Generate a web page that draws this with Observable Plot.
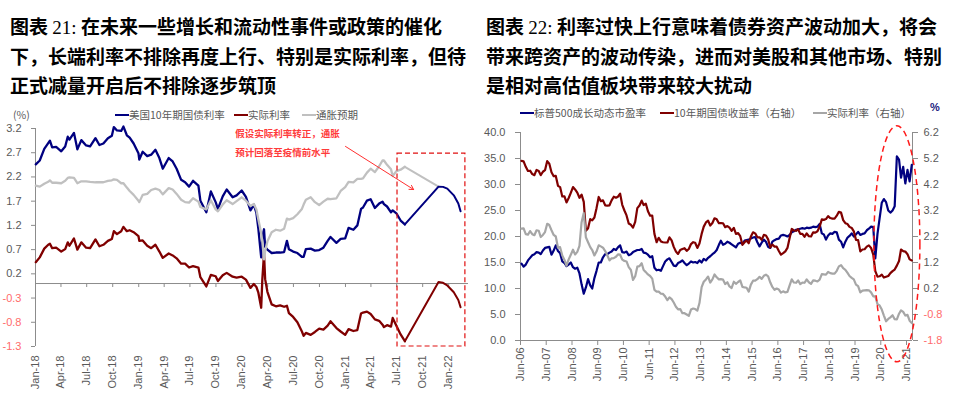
<!DOCTYPE html>
<html>
<head>
<meta charset="utf-8">
<script src="https://cdn.jsdelivr.net/npm/d3@7"></script>
<script src="https://cdn.jsdelivr.net/npm/@observablehq/plot@0.6"></script>
<style>
  html, body { margin: 0; padding: 0; background: #fff; }
  body { width: 954px; height: 397px; position: relative; overflow: hidden; font-family: "Noto Sans CJK SC", sans-serif; }
  .title { position: absolute; top: 12px; font-size: 19px; font-weight: 700; line-height: 28.3px; color: #000; white-space: nowrap; }
  .title .num { font-family: "Liberation Serif", serif; font-weight: 400; }
  .legend { position: absolute; font-size: 10.5px; line-height: 14px; color: #595959; white-space: nowrap; }
  .sw { display: inline-block; width: 14px; height: 2px; vertical-align: middle; margin-right: 0px; position: relative; top: -1px; }
  .fig { position: absolute; top: 105px; }
</style>
</head>
<body>
<div class="title" style="left:10px">图表 <span class="num">21:</span> 在未来一些增长和流动性事件或政策的催化<br>下，长端利率不排除再度上行、特别是实际利率，但待<br>正式减量开启后不排除逐步筑顶</div>
<div class="title" style="left:486px">图表 <span class="num">22:</span> 利率过快上行意味着债券资产波动加大，将会<br>带来跨资产的波动传染，进而对美股和其他市场、特别<br>是相对高估值板块带来较大扰动</div>

<div class="legend" style="left:13px;top:108px">(%)</div>
<div class="legend" style="left:115px;top:108px"><span class="sw" style="background:#000080"></span>美国10年期国债利率</div>
<div class="legend" style="left:234px;top:108px"><span class="sw" style="background:#800000"></span>实际利率</div>
<div class="legend" style="left:302px;top:108px"><span class="sw" style="background:#c0c0c0"></span>通胀预期</div>

<div class="legend" style="left:520px;top:106px"><span class="sw" style="background:#000080"></span>标普500成长动态市盈率</div>
<div class="legend" style="left:660px;top:106px"><span class="sw" style="background:#800000"></span>10年期国债收益率（右轴）</div>
<div class="legend" style="left:813px;top:106px"><span class="sw" style="background:#a6a6a6"></span>实际利率（右轴）</div>
<div class="legend" style="left:930px;top:100px;font-family:'Liberation Sans',sans-serif;font-weight:700;color:#1a1a80;font-size:11px">%</div>

<div id="left" class="fig" style="left:0px"></div>
<div id="right" class="fig" style="left:477px"></div>

<script>
// ---------------- LEFT CHART DATA (%) ----------------
const leftDates = [
"2018-01-02","2018-01-16","2018-02-01","2018-02-15","2018-02-21","2018-03-01","2018-03-15","2018-04-02","2018-04-16","2018-04-25",
"2018-05-01","2018-05-17","2018-05-29","2018-06-12","2018-06-29","2018-07-13","2018-08-01","2018-08-15","2018-08-29","2018-09-14",
"2018-09-28","2018-10-05","2018-10-16","2018-10-31","2018-11-08","2018-11-20","2018-11-30","2018-12-14","2018-12-31",
"2019-01-03","2019-01-15","2019-01-31","2019-02-14","2019-03-01","2019-03-15","2019-03-27","2019-04-17","2019-05-01","2019-05-15",
"2019-05-31","2019-06-14","2019-06-28","2019-07-12","2019-07-31","2019-08-07","2019-08-28","2019-09-13","2019-09-30","2019-10-08",
"2019-10-25","2019-11-08","2019-11-29","2019-12-13","2019-12-31",
"2020-01-15","2020-01-31","2020-02-12","2020-02-21","2020-02-28","2020-03-09","2020-03-13","2020-03-19","2020-03-23","2020-03-31",
"2020-04-15","2020-04-30","2020-05-15","2020-05-29","2020-06-08","2020-06-15","2020-06-30","2020-07-15","2020-07-31","2020-08-06",
"2020-08-14","2020-08-31","2020-09-15","2020-09-30","2020-10-15","2020-10-30","2020-11-09","2020-11-30","2020-12-15","2020-12-31",
"2021-01-12","2021-01-29","2021-02-12","2021-02-25","2021-03-04","2021-03-18","2021-03-31","2021-04-15","2021-04-30","2021-05-12",
"2021-05-17","2021-05-28","2021-06-11","2021-06-17","2021-06-30","2021-07-15","2021-07-30"
];
const leftNominal = [
2.46,2.54,2.78,2.90,2.95,2.81,2.82,2.73,2.83,3.03, 2.97,3.11,2.77,2.96,2.85,2.83,3.00,2.86,2.89,3.00, 3.05,3.23,3.16,3.15,3.24,3.06,3.01,2.89,2.69,
2.56,2.72,2.63,2.66,2.76,2.59,2.37,2.59,2.52,2.37, 2.14,2.09,2.00,2.12,2.02,1.71,1.47,1.90,1.68,1.54, 1.80,1.94,1.78,1.82,1.92,
1.79,1.51,1.63,1.46,1.13,0.54,0.94,1.12,0.76,0.70, 0.63,0.64,0.64,0.65,0.88,0.71,0.66,0.63,0.55,0.55, 0.71,0.72,0.68,0.69,0.74,0.88,0.96,0.84,0.92,0.93,
1.15,1.11,1.20,1.54,1.57,1.71,1.74,1.56,1.65,1.69, 1.64,1.59,1.47,1.51,1.45,1.30,1.22
];
const leftReal = [
0.44,0.54,0.72,0.80,0.82,0.73,0.74,0.66,0.71,0.85, 0.78,0.93,0.70,0.85,0.74,0.73,0.91,0.77,0.80,0.88, 0.92,1.08,1.02,1.08,1.17,1.08,1.10,1.06,0.98,
0.88,0.89,0.78,0.73,0.80,0.66,0.53,0.62,0.58,0.52, 0.41,0.41,0.33,0.36,0.33,0.13,-0.06,0.18,0.15,0.05, 0.17,0.22,0.14,0.12,0.14,
0.08,-0.09,-0.01,-0.07,-0.19,-0.50,0.08,0.62,0.09,-0.17, -0.43,-0.47,-0.45,-0.48,-0.46,-0.61,-0.69,-0.80,-0.99,-1.08, -1.02,-1.06,-1.00,-0.93,-0.95,-0.87,-0.78,-0.92,-0.99,-1.06,
-0.94,-0.98,-0.96,-0.62,-0.60,-0.58,-0.63,-0.74,-0.77,-0.85, -0.90,-0.86,-0.89,-0.71,-0.87,-1.05,-1.19
];
const leftInflation = [
2.02,2.00,2.06,2.10,2.13,2.08,2.08,2.07,2.12,2.18, 2.19,2.18,2.07,2.11,2.11,2.10,2.09,2.09,2.09,2.12, 2.13,2.15,2.14,2.07,2.07,1.98,1.91,1.83,1.71,
1.68,1.83,1.85,1.93,1.96,1.93,1.84,1.97,1.94,1.85, 1.73,1.68,1.67,1.76,1.69,1.58,1.53,1.72,1.53,1.49, 1.63,1.72,1.64,1.70,1.78,
1.71,1.60,1.64,1.53,1.32,1.04,0.86,0.50,0.67,0.87, 1.06,1.11,1.09,1.13,1.34,1.32,1.35,1.43,1.54,1.63, 1.73,1.78,1.68,1.62,1.69,1.75,1.74,1.76,1.91,1.99,
2.10,2.09,2.16,2.16,2.17,2.29,2.37,2.30,2.42,2.54, 2.54,2.45,2.36,2.22,2.32,2.35,2.41
];
// Projection (assumption) segments
const projDates = ["2021-07-30","2021-11-26","2021-12-12","2021-12-27","2022-01-19","2022-02-04","2022-02-12"];
const projNominal = [1.22, 2.00, 1.995, 1.96, 1.82, 1.65, 1.49];
const projReal = [-1.19, 0.03, 0.015, -0.04, -0.18, -0.34, -0.49];
const projInflDates = ["2021-07-30","2021-11-26"];
const projInflation = [2.41, 2.00];
// Dashed box around the projection, and annotation
const boxDates = ["2021-07-04","2022-03-01"];
const boxRange = [-1.3, 2.68];
const noteDate = "2019-12-08";
const noteLines = ["假设实际利率转正，通胀", "预计回落至疫情前水平"];
const noteY = [3.08, 2.70];
const arrowFrom = {date: "2021-01-01", value: 2.83};
const arrowTo = {date: "2021-08-30", value: 1.94};
const leftDomain = ["2018-01-01","2022-03-12"];
const leftTickDates = ["2018-01-01","2018-04-01","2018-07-01","2018-10-01","2019-01-01","2019-04-01","2019-07-01","2019-10-01",
  "2020-01-01","2020-04-01","2020-07-01","2020-10-01","2021-01-01","2021-04-01","2021-07-01","2021-10-01","2022-01-01"];
const leftYTicks = [3.2, 2.7, 2.2, 1.7, 1.2, 0.7, 0.2, -0.3, -0.8, -1.3];

// ---------------- RIGHT CHART DATA (monthly) ----------------
const rightStart = "2006-06-01", rightEndExclusive = "2021-09-01";
const rightPE = [
14.8,14.2,14.6,15.4,15.9,16.4,16.6,
17.0,16.9,16.6,17.3,17.8,17.9,18.0,16.5,17.3,18.3,17.2,16.8,
15.2,14.9,14.3,14.6,15.0,14.1,13.8,14.0,12.9,10.8,9.0,10.2,
11.8,10.6,10.0,12.0,13.4,15.0,15.0,16.0,16.6,16.6,16.9,17.1,
17.6,17.4,17.9,18.3,17.0,16.9,17.1,16.4,16.6,17.0,17.2,17.4,
17.4,17.6,16.9,16.8,16.5,16.0,16.2,14.0,13.5,13.6,13.4,14.3,
15.2,15.6,15.8,15.1,14.4,14.3,14.9,15.1,15.4,14.9,14.5,14.8,
15.2,15.0,15.1,14.9,15.4,15.0,15.7,15.4,15.9,16.2,16.6,16.9,
17.4,18.4,19.2,18.4,18.6,19.0,18.8,18.5,18.2,17.9,18.6,18.8,
18.6,19.2,19.3,19.4,19.6,19.8,19.9,18.9,18.1,18.8,19.4,19.0,
18.0,17.8,19.0,19.3,19.5,19.6,20.2,20.3,20.2,20.0,20.3,20.8,
21.0,21.3,21.4,21.5,21.6,21.5,21.7,21.6,21.7,21.9,21.8,21.9,
22.4,20.6,20.4,19.4,20.2,20.6,20.5,20.9,20.8,19.4,19.0,17.9,
19.0,19.8,20.1,20.6,20.0,20.4,20.9,20.3,20.5,20.6,21.2,21.5,
21.9,21.8,15.8,20.5,23.5,26.5,27.2,26.6,25.0,24.6,25.0,25.8,
35.4,34.8,31.3,33.4,30.2,32.8,30.6,33.8
];
const rightNominal = [
5.11,5.09,4.88,4.72,4.73,4.60,4.56,
4.76,4.72,4.56,4.69,4.75,5.10,5.00,4.67,4.52,4.53,4.15,4.10,
3.74,3.74,3.51,3.68,3.88,4.10,4.01,3.89,3.69,3.81,3.53,2.42,
2.52,2.87,2.82,2.93,3.29,3.72,3.56,3.59,3.40,3.39,3.40,3.59,
3.73,3.69,3.73,3.85,3.42,3.20,3.01,2.70,2.65,2.54,2.76,3.29,
3.39,3.58,3.41,3.46,3.17,3.00,3.00,2.30,1.98,2.15,2.01,1.98,
1.97,1.97,2.17,2.05,1.80,1.62,1.53,1.68,1.72,1.75,1.65,1.72,
1.91,1.98,1.96,1.76,1.93,2.30,2.58,2.74,2.81,2.62,2.72,2.90,
2.86,2.71,2.72,2.71,2.56,2.60,2.54,2.42,2.53,2.30,2.33,2.21,
1.88,1.98,2.04,1.94,2.20,2.36,2.32,2.17,2.17,2.07,2.26,2.24,
2.09,1.78,1.89,1.81,1.81,1.64,1.50,1.56,1.63,1.76,2.14,2.49,
2.43,2.42,2.48,2.30,2.30,2.19,2.32,2.21,2.20,2.36,2.35,2.40,
2.58,2.86,2.84,2.87,2.98,2.91,2.89,2.89,3.00,3.15,3.12,2.83,
2.71,2.68,2.57,2.53,2.40,2.07,2.06,1.63,1.70,1.71,1.81,1.86,
1.76,1.50,0.87,0.66,0.67,0.73,0.62,0.65,0.68,0.79,0.87,0.93,
1.08,1.26,1.70,1.64,1.62,1.52,1.32,1.28
];
const rightReal = [
2.50,2.51,2.29,2.27,2.41,2.29,2.25,
2.44,2.42,2.18,2.26,2.37,2.69,2.64,2.44,2.26,2.20,1.77,1.79,
1.47,1.30,1.08,1.32,1.50,1.69,1.51,1.61,1.84,2.75,3.10,2.17,
1.98,1.79,1.68,1.47,1.62,1.86,1.82,1.77,1.64,1.48,1.28,1.36,
1.37,1.42,1.51,1.50,1.31,1.26,1.24,1.02,0.91,0.53,0.67,1.04,
1.06,1.17,0.91,0.83,0.74,0.68,0.58,0.15,0.08,0.08,0.00,-0.01,
-0.11,-0.25,-0.14,-0.21,-0.34,-0.50,-0.60,-0.59,-0.75,-0.75,-0.80,-0.85,
-0.61,-0.57,-0.59,-0.65,-0.36,0.25,0.46,0.55,0.66,0.43,0.55,0.74,
0.63,0.55,0.56,0.54,0.37,0.44,0.28,0.22,0.46,0.38,0.45,0.51,
0.26,0.24,0.23,0.08,0.35,0.50,0.50,0.56,0.65,0.57,0.69,0.73,
0.67,0.43,0.26,0.15,0.20,0.16,0.04,0.09,0.05,0.07,0.32,0.55,
0.43,0.42,0.51,0.37,0.43,0.42,0.55,0.44,0.38,0.51,0.50,0.47,
0.54,0.75,0.74,0.73,0.84,0.79,0.77,0.77,0.88,1.05,1.10,0.98,
0.92,0.80,0.68,0.61,0.55,0.35,0.29,0.05,0.12,0.13,0.14,0.13,
0.05,-0.10,-0.10,-0.40,-0.45,-0.61,-0.84,-1.06,-0.97,-0.91,-0.83,-0.98,
-0.99,-0.77,-0.64,-0.70,-0.84,-0.81,-1.04,-1.13
];
const rightDomain = ["2006-06-01","2021-08-25"];
const rightTickDates = ["2006-06-01","2007-06-01","2008-06-01","2009-06-01","2010-06-01","2011-06-01","2012-06-01","2013-06-01",
  "2014-06-01","2015-06-01","2016-06-01","2017-06-01","2018-06-01","2019-06-01","2020-06-01","2021-06-01"];
const rightLeftTicks = [0, 5, 10, 15, 20, 25, 30, 35, 40];
const rightRightTicks = [6.2, 5.2, 4.2, 3.2, 2.2, 1.2, 0.2, -0.8, -1.8];
const ellipseDates = ["2020-03-02","2021-12-15"];
const ellipseRange = [-4.2, 41.2];

// ---------------- BUILD ----------------
const NAVY = "#000080", MAROON = "#800000", AXIS = "#8c8c8c", TXT = "#595959", PINK = "#ff6b6b";
const parse = d3.utcParse("%Y-%m-%d");
const fmtLeft = d3.utcFormat("%b-%y");
const baseStyle = {fontFamily: "'Liberation Sans', Arial, sans-serif", fontSize: "11px", color: TXT, background: "none", overflow: "visible"};

const leftRows = leftDates.map((d, i) => ({date: parse(d), nominal: leftNominal[i], real: leftReal[i], infl: leftInflation[i]}));
const projRows = projDates.map((d, i) => ({date: parse(d), nominal: projNominal[i], real: projReal[i]}));
const projInflRows = projInflDates.map((d, i) => ({date: parse(d), infl: projInflation[i]}));
const leftTicks = leftTickDates.map(parse);

const left = Plot.plot({
  width: 477, height: 292,
  marginLeft: 35, marginRight: 9, marginTop: 23, marginBottom: 51,
  style: baseStyle,
  x: {type: "utc", domain: leftDomain.map(parse)},
  y: {domain: [-1.3, 3.2]},
  marks: [
    Plot.ruleY([0], {stroke: AXIS, strokeWidth: 1}),
    Plot.ruleX([parse(leftDomain[0])], {stroke: AXIS, strokeWidth: 1}),
    Plot.ruleX(leftTicks, {x: d => d, y1: 0, y2: 0, insetBottom: -4, stroke: AXIS}),
    Plot.axisX(leftTicks, {anchor: "bottom", tickSize: 0, tickPadding: 9, tickRotate: -90, tickFormat: fmtLeft, label: null, fill: TXT}),
    Plot.axisY(leftYTicks.filter(v => v >= 0), {anchor: "left", tickSize: 4, tickPadding: 10, tickFormat: v => v.toFixed(1), label: null, fill: TXT, stroke: AXIS}),
    Plot.axisY(leftYTicks.filter(v => v < 0), {anchor: "left", tickSize: 4, tickPadding: 10, tickFormat: v => v.toFixed(1), label: null, fill: PINK, stroke: AXIS}),
    Plot.line(leftRows, {x: "date", y: "nominal", stroke: NAVY, strokeWidth: 2.3}),
    Plot.line(leftRows, {x: "date", y: "real", stroke: MAROON, strokeWidth: 2.3}),
    Plot.line(leftRows, {x: "date", y: "infl", stroke: "#c0c0c0", strokeWidth: 2.3}),
    Plot.line(projInflRows, {x: "date", y: "infl", stroke: "#c0c0c0", strokeWidth: 2}),
    Plot.line(projRows, {x: "date", y: "nominal", stroke: NAVY, strokeWidth: 2}),
    Plot.line(projRows, {x: "date", y: "real", stroke: MAROON, strokeWidth: 2}),
    Plot.rect([{x1: parse(boxDates[0]), x2: parse(boxDates[1]), y1: boxRange[0], y2: boxRange[1]}],
      {x1: "x1", x2: "x2", y1: "y1", y2: "y2", fill: "none", stroke: "#e01010", strokeWidth: 1.2, strokeDasharray: "5,3"}),
    Plot.arrow([{x1: parse(arrowFrom.date), y1: arrowFrom.value, x2: parse(arrowTo.date), y2: arrowTo.value}],
      {x1: "x1", y1: "y1", x2: "x2", y2: "y2", stroke: "#ff3030", strokeWidth: 1, headLength: 7, bend: 0}),
    Plot.text(noteLines.map((t, i) => ({t, y: noteY[i]})),
      {x: () => parse(noteDate), y: "y", text: "t", textAnchor: "start", fill: "#ff3b3b", fontSize: 9.5,
       fontFamily: "'Noto Sans CJK SC', sans-serif", fontWeight: 700})
  ]
});
document.getElementById("left").appendChild(left);

// Right chart
const rightMonths = d3.utcMonth.range(parse(rightStart), parse(rightEndExclusive)).map(d => d3.utcDay.offset(d, 14));
const toLeftUnits = r => (r + 1.8) * 5;   // secondary axis mapping: 6.2% ↔ 40, -1.8% ↔ 0
const rightRows = rightMonths.map((d, i) => ({date: d, pe: rightPE[i], nominal: rightNominal[i], real: rightReal[i]}));
const rightTicks = rightTickDates.map(parse);

function ellipseMark(index, scales) {
  const x = scales.x, y = scales.y;
  const xa = x(parse(ellipseDates[0])), xb = x(parse(ellipseDates[1]));
  const ya = y(ellipseRange[0]), yb = y(ellipseRange[1]);
  return d3.create("svg:ellipse")
    .attr("cx", (xa + xb) / 2).attr("cy", (ya + yb) / 2)
    .attr("rx", Math.abs(xb - xa) / 2).attr("ry", Math.abs(ya - yb) / 2)
    .attr("fill", "none").attr("stroke", "#ff1a1a").attr("stroke-width", 1.5)
    .attr("stroke-dasharray", "6,4").node();
}

const right = Plot.plot({
  width: 477, height: 292,
  marginLeft: 43, marginRight: 42, marginTop: 27, marginBottom: 57,
  style: baseStyle,
  x: {type: "utc", domain: rightDomain.map(parse)},
  y: {domain: [0, 40]},
  marks: [
    Plot.ruleY([0], {stroke: AXIS}),
    Plot.ruleX([parse(rightDomain[0])], {stroke: AXIS}),
    Plot.ruleX([parse(rightDomain[1])], {stroke: AXIS}),
    Plot.ruleX(rightTicks, {x: d => d, y1: 0, y2: 0, insetBottom: -5, stroke: AXIS}),
    Plot.axisX(rightTicks, {anchor: "bottom", tickSize: 0, tickPadding: 7, tickRotate: -90, tickFormat: d3.utcFormat("%b-%y"), label: null, fill: TXT}),
    Plot.axisY(rightLeftTicks, {anchor: "left", tickSize: 5, tickPadding: 10, tickFormat: v => v.toFixed(1), label: null, fill: TXT, stroke: AXIS}),
    Plot.axisY(rightRightTicks.filter(v => v >= 0).map(toLeftUnits), {anchor: "right", tickSize: 5, tickPadding: 6,
      tickFormat: v => (v / 5 - 1.8).toFixed(1), label: null, fill: TXT, stroke: AXIS}),
    Plot.axisY(rightRightTicks.filter(v => v < 0).map(toLeftUnits), {anchor: "right", tickSize: 5, tickPadding: 6,
      tickFormat: v => (v / 5 - 1.8).toFixed(1), label: null, fill: PINK, stroke: AXIS}),
    Plot.line(rightRows, {x: "date", y: "pe", stroke: NAVY, strokeWidth: 2.2}),
    Plot.line(rightRows, {x: "date", y: d => toLeftUnits(d.nominal), stroke: MAROON, strokeWidth: 2.2}),
    Plot.line(rightRows, {x: "date", y: d => toLeftUnits(d.real), stroke: "#a6a6a6", strokeWidth: 2.2}),
    ellipseMark
  ]
});
document.getElementById("right").appendChild(right);
</script>
</body>
</html>
